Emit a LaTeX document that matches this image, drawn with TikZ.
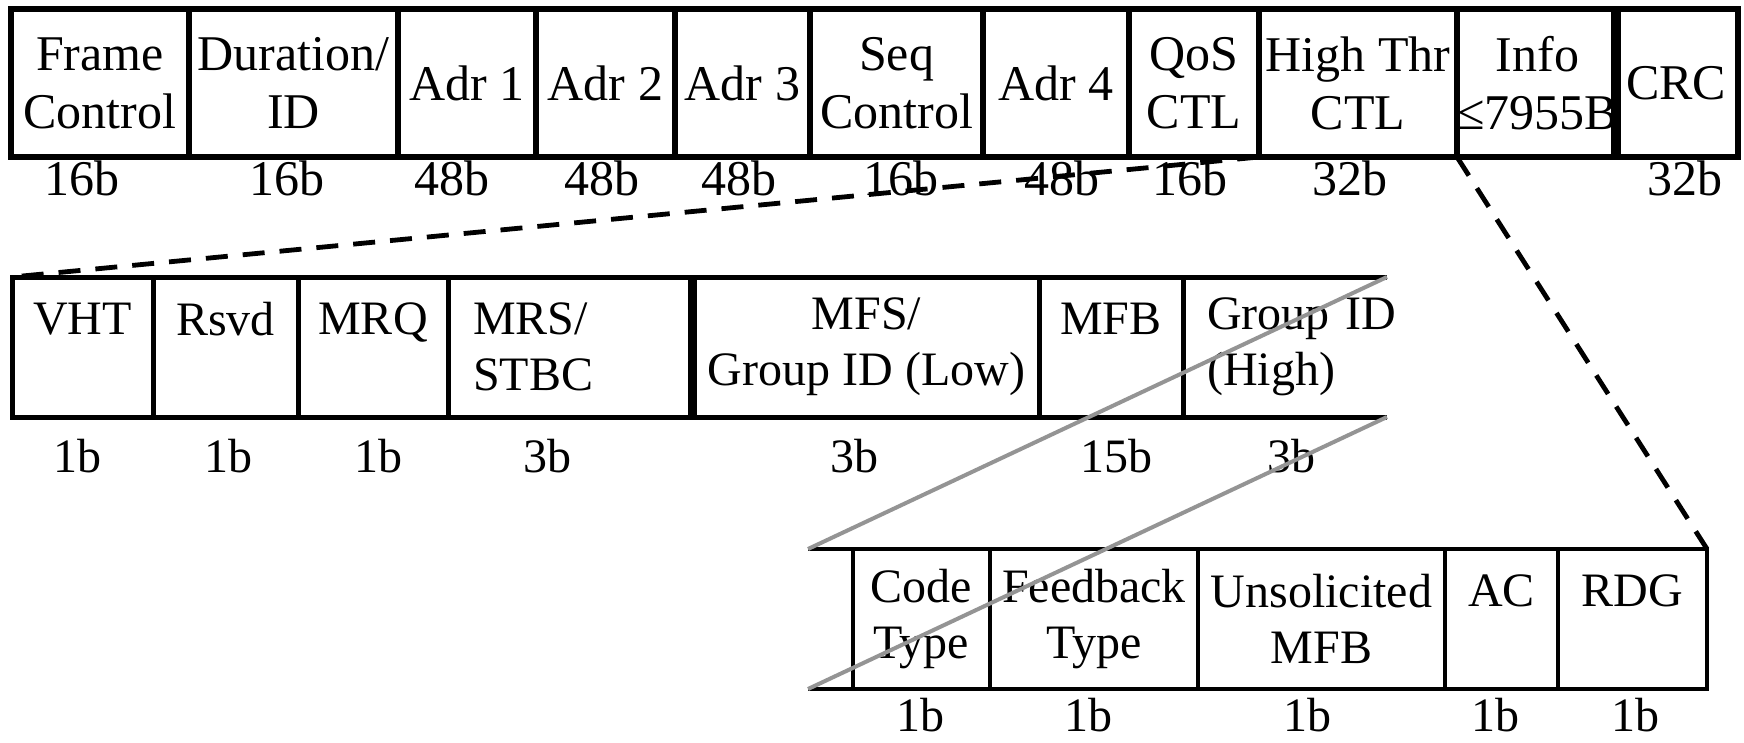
\documentclass[tikz,border=0pt]{standalone}
\usepackage{fontspec}
\setmainfont{Liberation Serif}
\begin{document}
\begin{tikzpicture}[x=0.5pt,y=-0.5pt,
  fldA/.style={draw, line width=2.8pt, inner sep=0pt, outer sep=0pt, anchor=north west,
    minimum height=74pt, align=center, font=\fontsize{25}{29}\selectfont},
  fldB/.style={draw, line width=2.5pt, inner sep=0pt, outer sep=0pt, anchor=north west,
    minimum height=70pt, align=center, font=\fontsize{24}{28}\selectfont},
  fldC/.style={fldB, line width=2.2pt},
  sizeA/.style={inner sep=0pt, font=\fontsize{25}{29}\selectfont},
  sizeB/.style={inner sep=0pt, font=\fontsize{24}{28}\selectfont},
  zoomdash/.style={line width=2.4pt, dash pattern=on 11pt off 7.5pt},
  zoomgray/.style={line width=2pt, draw=black!42},
]
\useasboundingbox (0,0) rectangle (1744,743);

% ---- Row 1: MAC frame
\node[fldA, minimum width=89pt]   (fc)   at (11,9)   {Frame\\Control};
\node[fldA, minimum width=104.5pt](dur)  at (189,9)  {Duration/\\ID};
\node[fldA, minimum width=69pt]   (a1)   at (398,9)  {Adr 1};
\node[fldA, minimum width=69.5pt] (a2)   at (536,9)  {Adr 2};
\node[fldA, minimum width=67.5pt] (a3)   at (675,9)  {Adr 3};
\node[fldA, minimum width=86.5pt] (seq)  at (810,9)  {Seq\\Control};
\node[fldA, minimum width=73pt]   (a4)   at (983,9)  {Adr 4};
\node[fldA, minimum width=65pt]   (qos)  at (1129,9) {QoS\\CTL};
\node[fldA, minimum width=99pt]   (ht)   at (1259,9) {High Thr\\CTL};
\node[fldA, minimum width=74pt]   (info) at (1457,9) {Info\\≤7955B};
\node[fldA, minimum width=62pt]   (crc)  at (1614,9) {CRC};

\node[sizeA] (l-fc)   at (82,178)   {16b};
\node[sizeA] (l-dur)  at (287,178)  {16b};
\node[sizeA] (l-a1)   at (452,178)  {48b};
\node[sizeA] (l-a2)   at (602,178)  {48b};
\node[sizeA] (l-a3)   at (739,178)  {48b};
\node[sizeA] (l-seq)  at (901,178)  {16b};
\node[sizeA] (l-a4)   at (1062,178) {48b};
\node[sizeA] (l-qos)  at (1190,178) {16b};
\node[sizeA] (l-ht)   at (1350,178) {32b};
\node[sizeA] (l-crc)  at (1685,178) {32b};

% ---- Row 2: HT control
\node[fldB, minimum width=70.5pt]  (vht)  at (12,277)   {VHT\\\mbox{}};
\node[fldB, minimum width=72.5pt]  (rsvd) at (153,277)  {Rsvd\\\mbox{}};
\node[fldB, minimum width=75pt]    (mrq)  at (298,277)  {MRQ\\\mbox{}};
\node[fldB, minimum width=121pt, text width=96pt, align=left] (mrs) at (448,277) {MRS/\\STBC};
\node[fldB, minimum width=172.5pt] (mfs)  at (694,277)  {MFS/\\Group ID (Low)};
\node[fldB, minimum width=72pt]    (mfb)  at (1039,277) {MFB\\\mbox{}};
\node[fldB, draw=none, minimum width=102pt, text width=78pt, align=left] (gidh) at (1183,277) {\mbox{Group ID}\\(High)};
\draw[line width=2.5pt] (gidh.north west) -- (gidh.north east);
\draw[line width=2.5pt] (gidh.south west) -- (gidh.south east);

\node[sizeB] (l-vht)  at (78,456)   {1b};
\node[sizeB] (l-rsvd) at (228,456)  {1b};
\node[sizeB] (l-mrq)  at (378,456)  {1b};
\node[sizeB] (l-mrs)  at (547,456)  {3b};
\node[sizeB] (l-mfs)  at (854,456)  {3b};
\node[sizeB] (l-mfb)  at (1116,456) {15b};
\node[sizeB] (l-gidh) at (1291,456) {3b};

% ---- Row 3: Group ID (High) detail
\coordinate (r3t) at (808,549);
\coordinate (r3b) at (808,689);
\node[fldC, minimum width=68.5pt]  (code)  at (853,549)  {Code\\Type};
\node[fldC, minimum width=104pt]   (fbt)   at (990,549)  {Feedback\\Type};
\node[fldC, minimum width=123.5pt] (unsol) at (1198,549) {Unsolicited\\MFB};
\node[fldC, minimum width=56.5pt]  (ac)    at (1445,549) {AC\\\mbox{}};
\node[fldC, minimum width=74.5pt]  (rdg)   at (1558,549) {RDG\\\mbox{}};
\draw[line width=2.2pt] (r3t) -- (code.north west);
\draw[line width=2.2pt] (r3b) -- (code.south west);

\node[sizeB] (l-code)  at (920,715)  {1b};
\node[sizeB] (l-fbt)   at (1088,715) {1b};
\node[sizeB] (l-unsol) at (1307,715) {1b};
\node[sizeB] (l-ac)    at (1495,715) {1b};
\node[sizeB] (l-rdg)   at (1635,715) {1b};

% ---- zoom connectors
\draw[zoomdash] (ht.south west) -- (vht.north west);
\draw[zoomdash] (ht.south east) -- (rdg.north east);
\draw[zoomgray] (gidh.north east) -- (r3t);
\draw[zoomgray] (gidh.south east) -- (r3b);
\end{tikzpicture}
\end{document}
